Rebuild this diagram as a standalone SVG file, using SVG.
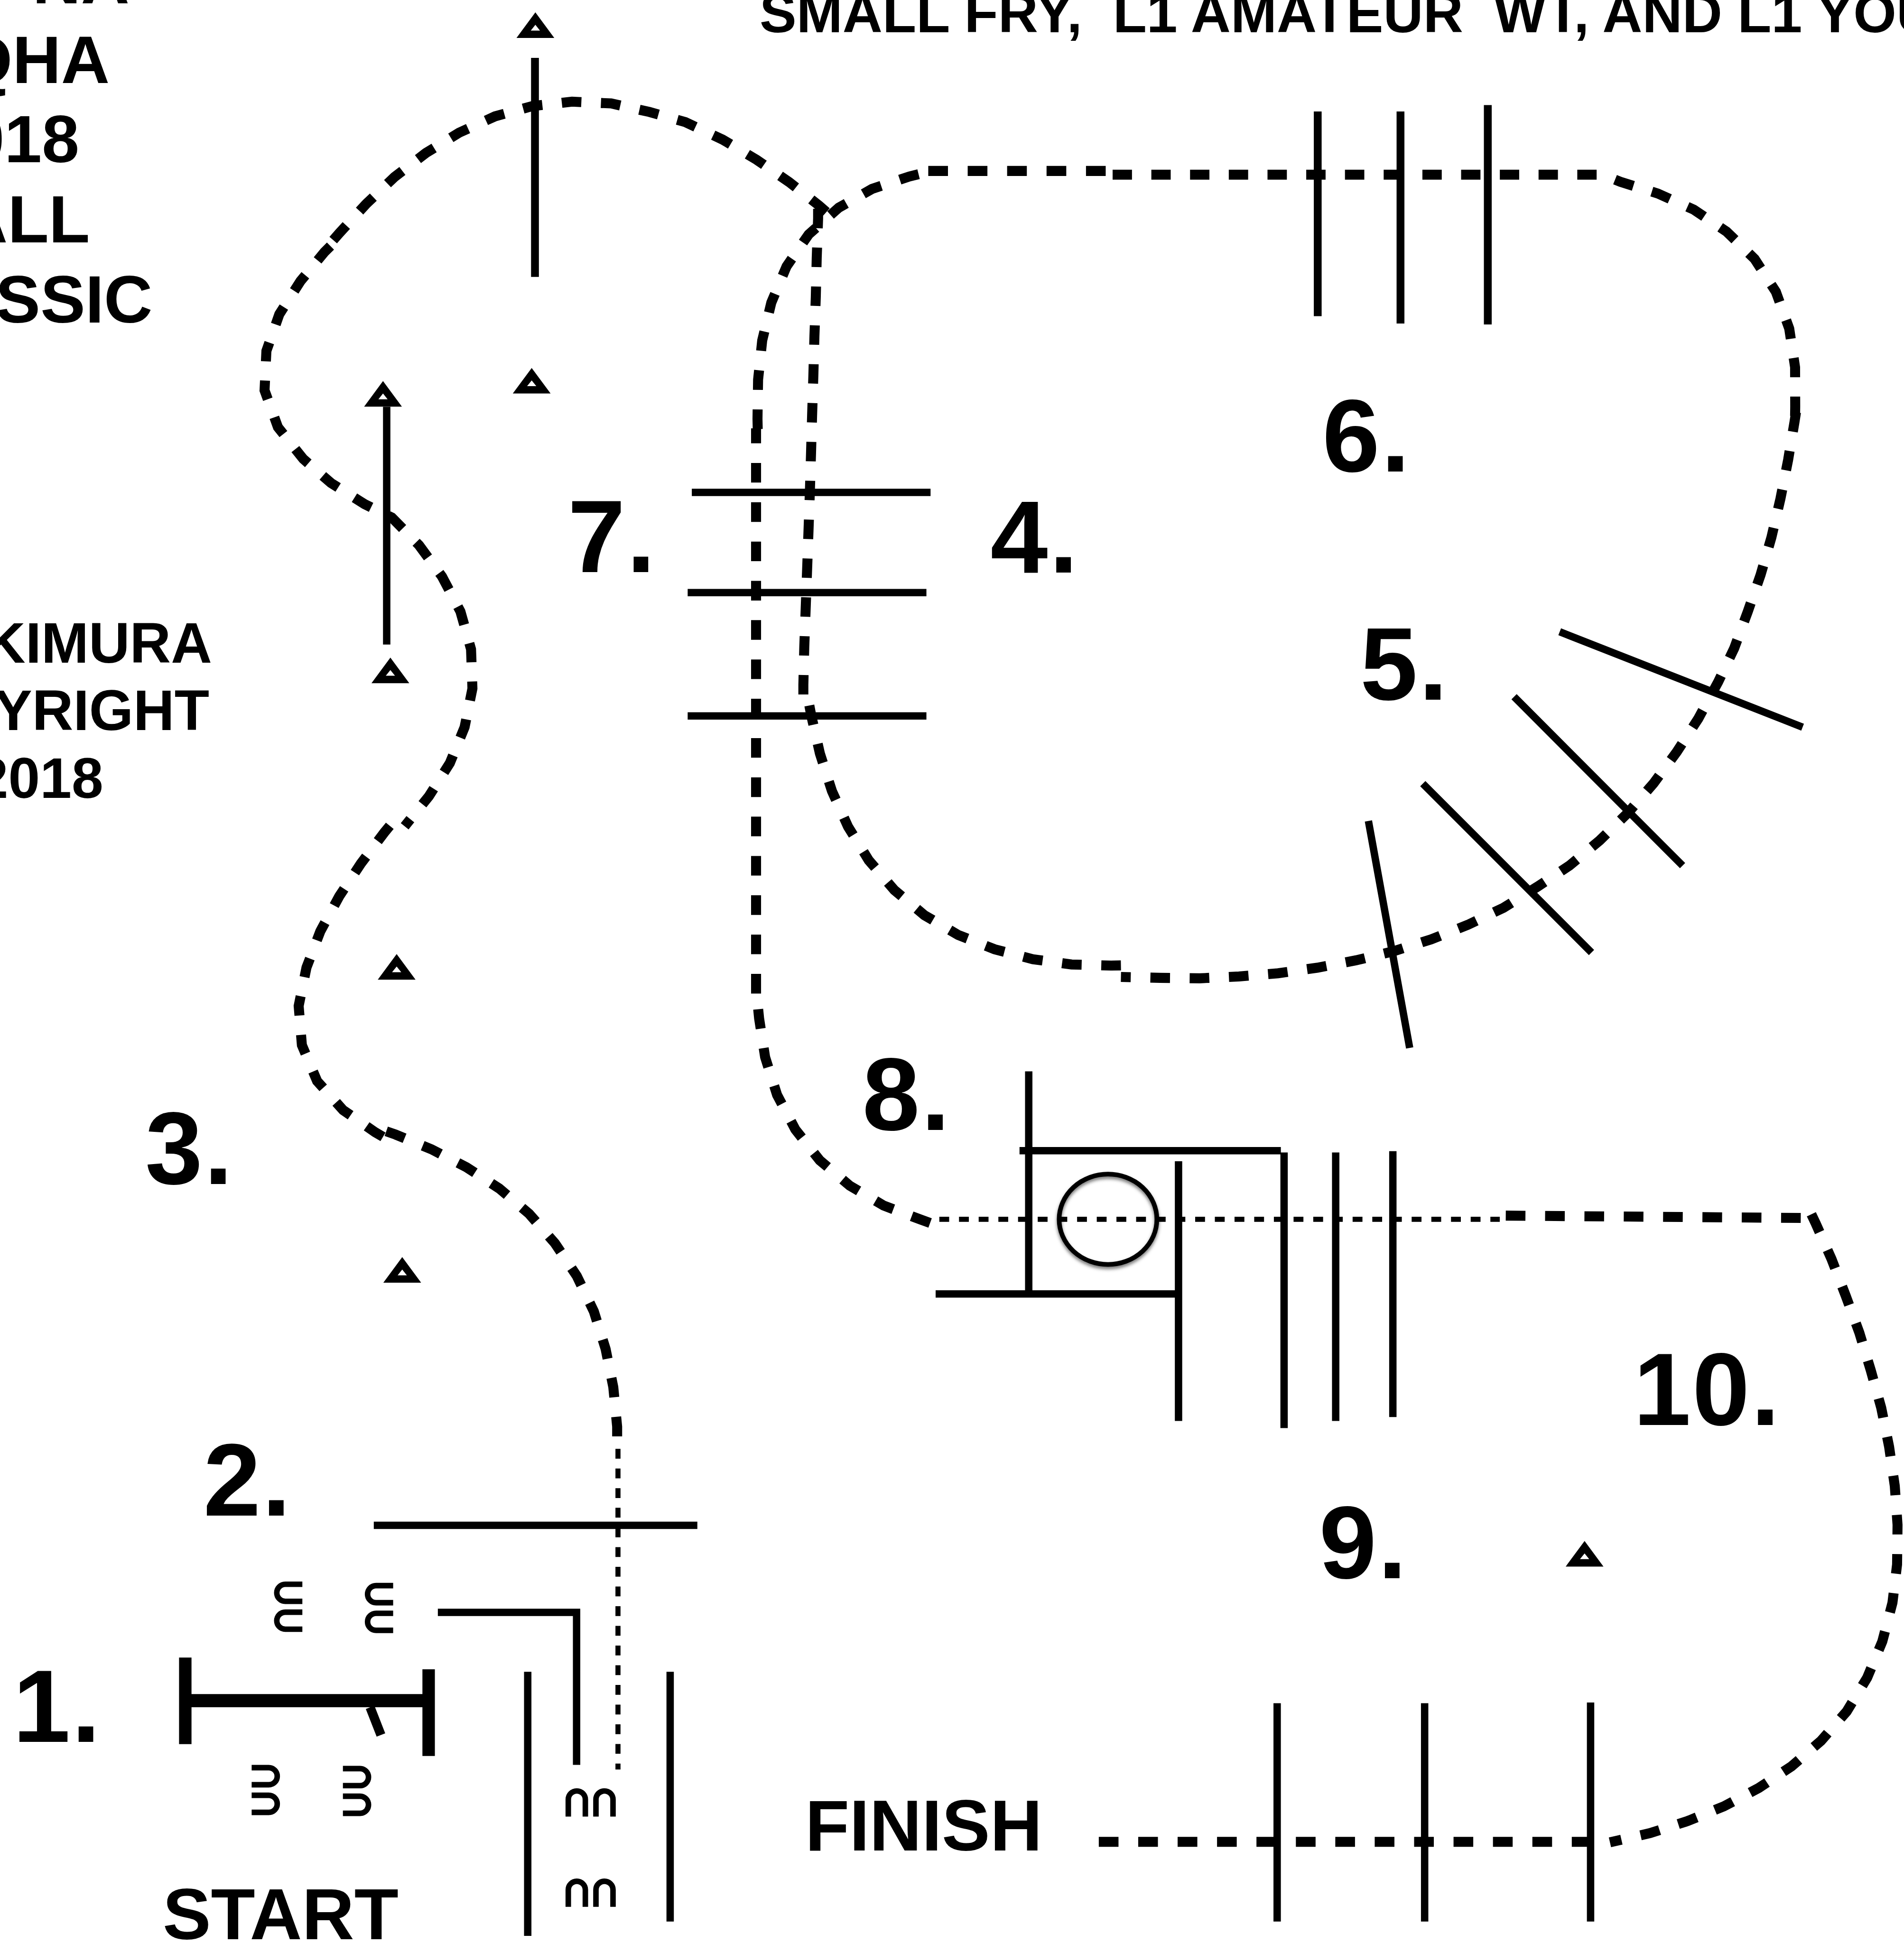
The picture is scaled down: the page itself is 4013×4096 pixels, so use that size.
<svg xmlns="http://www.w3.org/2000/svg" width="4013" height="4096" viewBox="0 0 4013 4096">
<style>
.d{fill:none;stroke:#000;stroke-width:21.7;stroke-dasharray:1 1}
.f{fill:none;stroke:#000;stroke-width:11;stroke-dasharray:21.35 21.35}
.l{fill:none;stroke:#000;stroke-width:16}
.a{fill:none;stroke:#000;stroke-width:12}
.t{font-family:"Liberation Sans",Arial,sans-serif;font-weight:700;fill:#000;white-space:pre}
.big{font-size:224px;letter-spacing:3px}
.m{font-size:146px;text-anchor:end}
.s{font-size:123.5px;text-anchor:end}
.h{font-size:157px}
</style>
<defs>
<path id="tri" fill-rule="evenodd" d="M0 0L41 55.5H-41ZM0 27L-10 39.5H10Z"/>
<path id="arch" class="a" d="M6 0V-37A18.5 18.5 0 0 1 43 -37V0"/>
<filter id="sh" x="-20%" y="-20%" width="140%" height="140%"><feDropShadow dx="0" dy="5" stdDeviation="4" flood-color="#000" flood-opacity=".55"/></filter>
</defs>
<rect width="4013" height="4096" fill="#fff"/>
<g transform="scale(.97143)">
<g id="connectors">
<path class="d" pathLength="21" d="M838 2455L858 2462L936 2494L1012 2533L1083 2579L1148 2634L1204 2698L1251.5 2769L1288.5 2846L1314 2927.5L1330.6 3010L1339 3096L1339 3117"/>
<path class="f" d="M1340.8 3144V3840"/>
<path class="d" pathLength="19" d="M831 2467L814 2457L744.5 2409L688 2346L655 2268L648 2183L665 2099.5L695 2021L736 1945L783 1874L833.5 1807L845.7 1792"/>
<path class="d" pathLength="36.47" stroke-dashoffset=".53" d="M878 1793L930.5 1728L976 1656L1008 1578L1025 1494L1022 1409L999 1327L959 1251L909 1183L850 1123L791 1094L718 1048L658 996L603 927L574 847L578 761.5L606 682L652 610L704 547L717 534"/>
<path class="d" pathLength="29" d="M723 521L737 505L795 442L856 384L924 332L996 288L1074 252.5L1156 230L1241 220.6L1326 224.5L1409 243L1487 265L1568 303L1641.6 346.7L1712 395L1777 446L1793 460"/>
<path class="d" pathLength="25" d="M1775 453L1775 474L1772 560L1770 644.5L1767 730.6L1764.7 815L1762 901L1759.6 985.7L1757 1071L1754 1156.6L1751 1240L1748 1322L1745 1404L1743 1486L1743 1507"/>
<path class="d" pathLength="23" d="M1756 1531L1760 1552L1779 1635.5L1805 1716.6L1840 1794L1885 1867L1940.5 1931.6L2005.6 1986L2079 2029L2158 2060L2241 2081.6L2325 2093L2410.6 2095.4L2432 2095"/>
<path class="d" pathLength="50.5" stroke-dashoffset=".5" d="M2432 2120L2517 2122L2603 2123L2688 2119L2773 2112L2858 2100L2942 2084L3024.5 2064L3105 2038.5L3184.6 2007L3262 1970L3336 1924L3405 1878.5L3470.6 1824L3532 1764L3587.6 1700L3638 1631.6L3684.6 1559.6L3727.7 1480L3762.5 1407L3792 1327.4L3820 1247L3843.4 1166L3863 1082L3879.6 998L3893.4 915.8L3896.7 894.7"/>
<path class="d" pathLength="43" d="M3894.7 902.6L3895 882L3894.7 797L3882 713L3853 633L3807 562L3746 502.5L3675 455L3597 420L3515.8 394.6L3477 379L2414 379"/>
<path class="d" pathLength="9" d="M2399 371H2014"/>
<path class="d" pathLength="17" d="M1993 378L1973 383L1892 410L1820 450.6L1754.5 508.7L1706.6 578L1673.5 656.6L1653.7 739L1644.8 824L1643.5 909L1644 931"/>
<path class="d" pathLength="28.76" stroke-dashoffset=".24" d="M1640.4 929.6V2156"/>
<path class="d" pathLength="15" d="M1645 2190L1647 2210L1660 2294L1686 2376L1725.6 2451L1778.6 2518L1843.6 2573L1917 2616L1996 2646L2018 2654"/>
<path class="f" d="M2038 2646H3254"/>
<path class="d" pathLength="15" d="M3267 2638L3907 2643"/>
<path class="d" pathLength="40.6" d="M3930 2635L3939.5 2655L3973.7 2732L4004.6 2812L4034 2891.6L4059 2974L4081.6 3055L4098.7 3139.5L4111 3224.6L4117 3309L4116 3395L4106 3478L4084 3562L4051 3641L4006.6 3714L3951 3777.7L3887 3833L3816 3880L3740 3920L3661 3952L3580 3978L3493 3998"/>
<path class="d" pathLength="25" d="M3453 3997H2384"/>
</g>
<g id="gates">
<path class="l" style="stroke-width:17" d="M1160.7 125.6V600.8"/>
<path class="l" d="M839 882.6V1398.6"/>
<path class="l" style="stroke-width:17" d="M2859 242V686M3038.6 242V702M3228 228V704"/>
<path class="l" d="M1501 1068.6H2019M1492 1286H2010M1492 1553.6H2010"/>
<path class="l" d="M3384 1371L3911 1578M3285 1512L3650.6 1878.5M3087 1700.5L3453 2067M2969 1781.5L3058.5 2274"/>
<path class="l" d="M2232 2325V2808M2212 2497H2779M2030 2808H2555M2557 2520V3083.6M2786 2501V3099M2898 2501V3083.6M3022 2498V3075"/>
<path class="l" d="M811 3310H1513M950 3499H1259M1251 3492V3830M1145 3628V4201M1454 3628V4170"/>
<path class="l" d="M2771 3696V4170M3091 3696V4170M3451 3694.5V4170"/>
<path d="M402 3690.6H930" fill="none" stroke="#000" stroke-width="28.5"/>
<path d="M402 3597V3785M930 3622.6V3810.5" fill="none" stroke="#000" stroke-width="27"/>
<path d="M803 3705L826.5 3765" fill="none" stroke="#000" stroke-width="20"/>
<ellipse id="barrel" cx="2404" cy="2646" rx="106" ry="98" fill="none" stroke="#000" stroke-width="10" filter="url(#sh)"/>
</g>
<g id="cones">
<use href="#tri" x="1161.6" y="26.8"/>
<use href="#tri" x="1153.6" y="798.5"/>
<use href="#tri" x="831" y="827"/>
<use href="#tri" x="847" y="1427"/>
<use href="#tri" x="860.6" y="2070.4"/>
<use href="#tri" x="872.7" y="2728"/>
<use href="#tri" x="3438" y="3344"/>
</g>
<g id="logs">
<use href="#arch" transform="translate(1227 3942)"/>
<use href="#arch" transform="translate(1287 3942)"/>
<use href="#arch" transform="translate(1227 4138)"/>
<use href="#arch" transform="translate(1287 4138)"/>
<use href="#arch" transform="translate(656 3481) rotate(-90)"/>
<use href="#arch" transform="translate(656 3541.5) rotate(-90)"/>
<use href="#arch" transform="translate(853 3484) rotate(-90)"/>
<use href="#arch" transform="translate(853 3544) rotate(-90)"/>
<use href="#arch" transform="translate(546 3830) rotate(90)"/>
<use href="#arch" transform="translate(546 3890) rotate(90)"/>
<use href="#arch" transform="translate(744 3832) rotate(90)"/>
<use href="#arch" transform="translate(744 3892) rotate(90)"/>
</g>
<g id="labels">
<text class="t big" x="28" y="3780">1.</text>
<text class="t big" x="441" y="3289">2.</text>
<text class="t big" x="315" y="2569">3.</text>
<text class="t big" x="2149" y="1243">4.</text>
<text class="t big" x="2951" y="1518">5.</text>
<text class="t big" x="2869" y="1023">6.</text>
<text class="t big" x="1232" y="1241">7.</text>
<text class="t big" x="1871" y="2452">8.</text>
<text class="t big" x="2862" y="3425">9.</text>
<text class="t big" x="3544" y="3092">10.</text>
<text class="t h" x="353" y="4208">START</text>
<text class="t h" x="1747" y="4016">FINISH</text>
<text class="t m" x="281" y="7">NA</text>
<text class="t m" x="238" y="180">QHA</text>
<text class="t m" x="172" y="352">018</text>
<text class="t m" x="195" y="526">ALL</text>
<text class="t m" x="331" y="700">SSIC</text>
<text class="t s" x="460" y="1437.7">KIMURA</text>
<text class="t s" x="454" y="1584">YRIGHT</text>
<text class="t s" x="224" y="1731">2018</text>
<text class="t" font-size="120" x="1648" y="70">SMALL FRY,  L1 AMATEUR  WT, AND L1 YOU</text>
</g>
</g>
</svg>
